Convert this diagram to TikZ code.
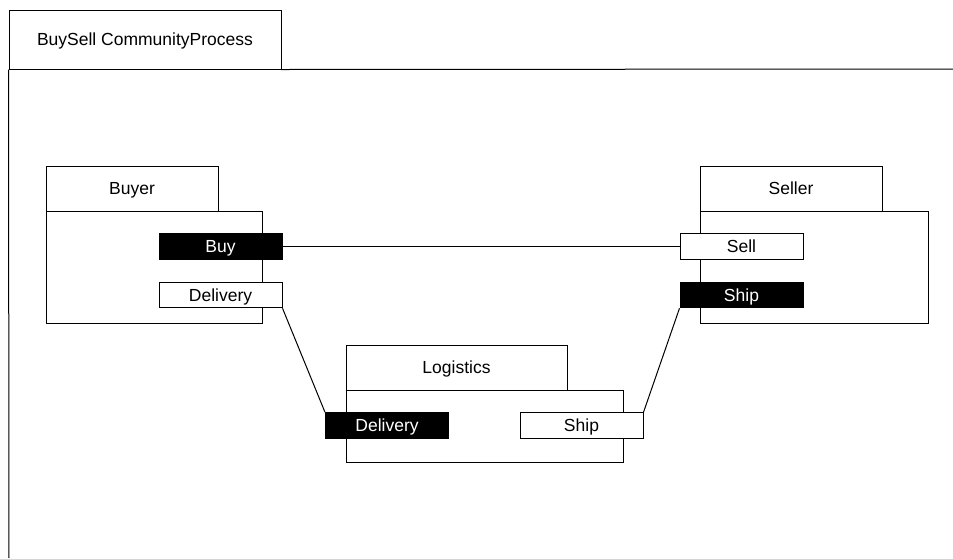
\documentclass[tikz,border=0pt]{standalone}
\usepackage{fontspec}
\setmainfont{Liberation Sans}
\begin{document}
\begin{tikzpicture}[x=1pt,y=-1pt,
  every node/.style={inner sep=0pt, text height=12.5pt, text depth=0pt,
    font=\fontsize{17.5}{21}\selectfont},
  box/.style={draw, line width=1pt, fill=white},
  port/.style={box, minimum width=123pt, minimum height=25.5pt},
  portb/.style={port, fill=black, text=white},
  link/.style={draw, line width=1pt}]
\useasboundingbox (0,0) rectangle (953,558);

% outer community process frame
\node[box, minimum width=272pt, minimum height=59pt] (frame) at (145,39.5) {BuySell CommunityProcess};
\coordinate (frameBL) at (9,558);
\coordinate (frameR) at (953,69);
\draw[line width=1pt] (frame.south west) -- (frameBL);
\draw[line width=1pt] (frame.south east) -- (frameR);

% Buyer
\node[box, minimum width=216pt, minimum height=112pt] (buyerBody) at (154,267) {};
\node[box, minimum width=172pt, minimum height=45pt] (buyerTab) at (132,188.5) {Buyer};
\node[portb] (buy) at (220.5,246.5) {Buy};
\node[port] (buyerDel) at (220.5,295) {Delivery};

% Seller
\node[box, minimum width=228pt, minimum height=112pt] (sellerBody) at (814,267) {};
\node[box, minimum width=182pt, minimum height=45pt] (sellerTab) at (791,188.5) {Seller};
\node[port] (sell) at (741.5,246.5) {Sell};
\node[portb] (sellerShip) at (741.5,295) {Ship};

% Logistics
\node[box, minimum width=277pt, minimum height=72pt] (logBody) at (484.5,426) {};
\node[box, minimum width=221pt, minimum height=45pt] (logTab) at (456.5,367.5) {Logistics};
\node[portb] (logDel) at (387,425.5) {Delivery};
\node[port] (logShip) at (581.5,425.5) {Ship};

% connectors
\draw[link] (buy.east) -- (sell.west);
\draw[link] (buyerDel.south east) -- (logDel.north west);
\draw[link] (logShip.north east) -- (sellerShip.south west);
\end{tikzpicture}
\end{document}
